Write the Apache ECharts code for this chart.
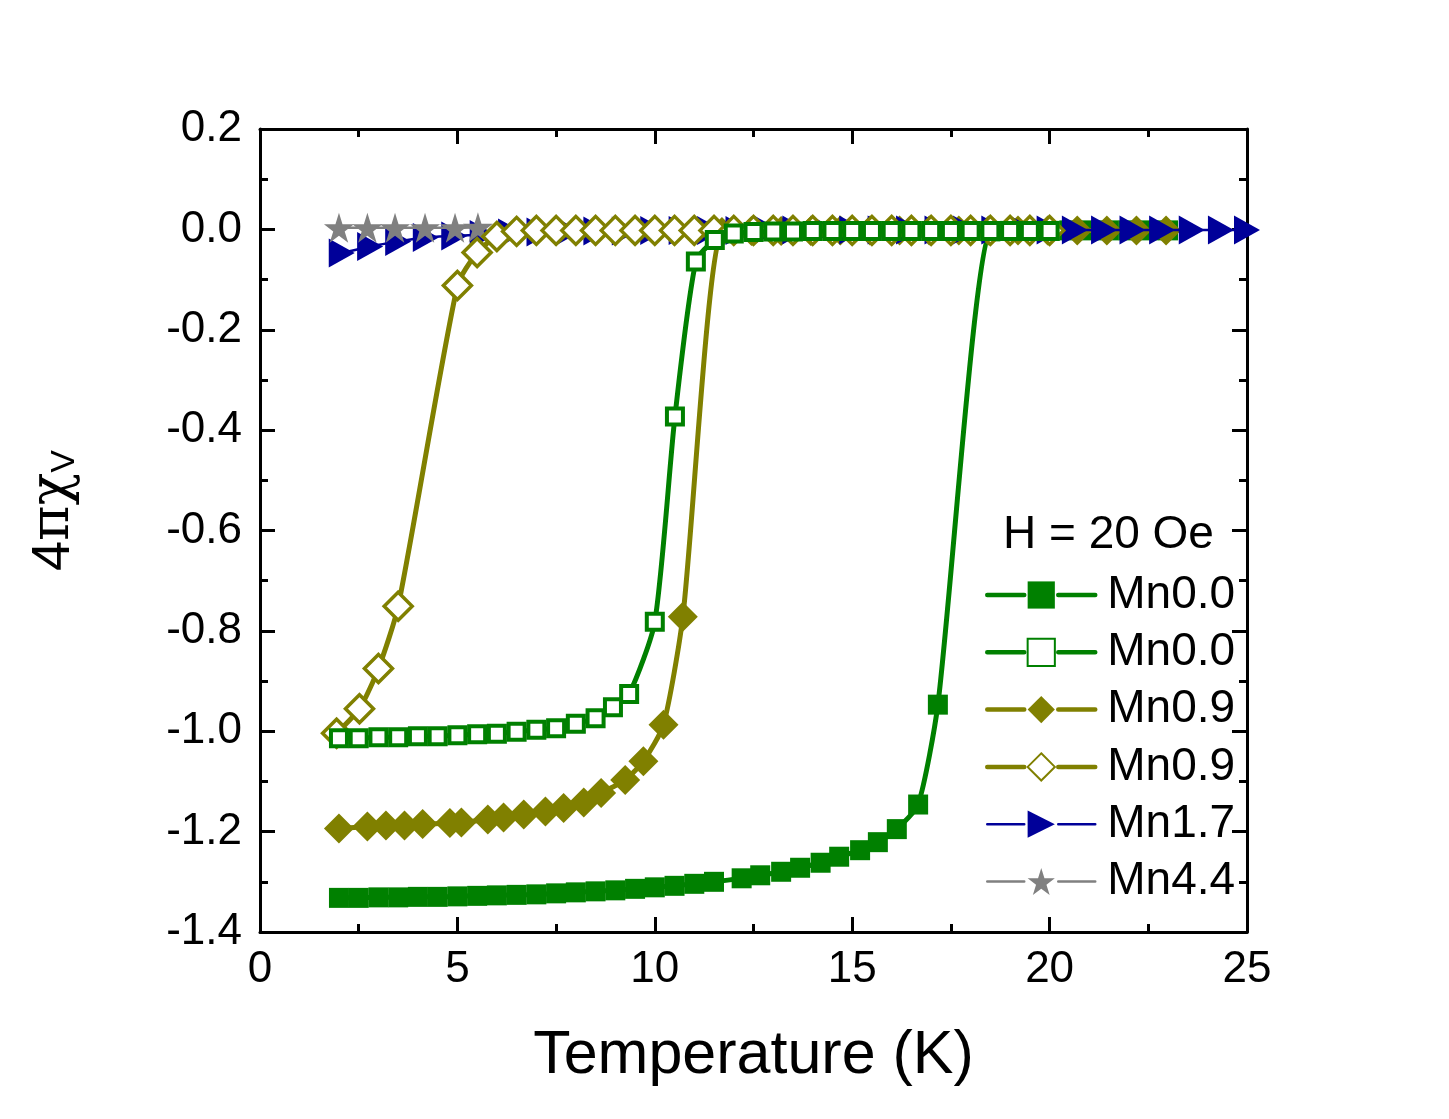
<!DOCTYPE html>
<html>
<head>
<meta charset="utf-8">
<script src="https://cdn.jsdelivr.net/npm/echarts@6/dist/echarts.min.js"></script>
<style>
html,body{margin:0;padding:0;background:#fff;}
#c{width:1449px;height:1119px;}
</style>
</head>
<body>
<div id="c"></div>
<script>
// ---- Data ----
const legendTitle = 'H = 20 Oe';
const xTitle = 'Temperature (K)';

// Mn0.0 filled squares
const sqT = [2.0, 2.5, 3.0, 3.5, 4.0, 4.5, 5.0, 5.5, 6.0, 6.5, 7.0, 7.5, 8.0, 8.5, 9.0, 9.5, 10.0, 10.5, 11.0, 11.5, 12.2, 12.67, 13.2, 13.68, 14.2, 14.67, 15.2, 15.65, 16.13, 16.67, 17.17, 18.5, 19.0, 19.5, 20.0, 20.5, 21.0, 21.5, 22.0, 22.5, 23.0];
const sqV = [-1.332, -1.332, -1.331, -1.331, -1.330, -1.330, -1.329, -1.328, -1.327, -1.326, -1.325, -1.323, -1.321, -1.319, -1.317, -1.314, -1.311, -1.308, -1.304, -1.300, -1.293, -1.287, -1.280, -1.272, -1.262, -1.250, -1.237, -1.221, -1.195, -1.146, -0.947, -0.004, -0.003, -0.003, -0.003, -0.002, -0.002, -0.002, -0.002, -0.002, -0.002];

// Mn0.0 open squares
const osqT = [2.0, 2.5, 3.0, 3.5, 4.0, 4.5, 5.0, 5.5, 6.0, 6.5, 7.0, 7.5, 8.0, 8.5, 8.94, 9.35, 10.0, 10.51, 11.04, 11.52, 12.0, 12.5, 13.0, 13.5, 14.0, 14.5, 15.0, 15.5, 16.0, 16.5, 17.0, 17.5, 18.0, 18.5, 19.0, 19.5, 20.0];
const osqV = [-1.014, -1.014, -1.012, -1.012, -1.010, -1.010, -1.008, -1.006, -1.005, -1.001, -0.997, -0.994, -0.985, -0.974, -0.952, -0.926, -0.782, -0.373, -0.064, -0.021, -0.008, -0.005, -0.004, -0.004, -0.003, -0.003, -0.003, -0.003, -0.003, -0.003, -0.003, -0.003, -0.003, -0.003, -0.003, -0.003, -0.003];

// Mn0.9 filled diamonds
const diaT = [2.0, 2.72, 3.19, 3.66, 4.12, 4.81, 5.10, 5.77, 6.17, 6.68, 7.23, 7.69, 8.20, 8.64, 9.25, 9.71, 10.22, 10.71, 11.7, 12.45, 13.2, 13.95, 14.7, 15.45, 16.2, 16.95, 17.7, 18.45, 19.2, 19.95, 20.7, 21.45, 22.2, 22.95];
const diaV = [-1.194, -1.190, -1.188, -1.188, -1.185, -1.183, -1.182, -1.176, -1.172, -1.166, -1.160, -1.153, -1.142, -1.123, -1.097, -1.060, -0.987, -0.772, -0.005, -0.003, -0.003, -0.003, -0.002, -0.002, -0.002, -0.002, -0.002, -0.002, -0.002, -0.002, -0.002, -0.002, -0.002, -0.002];

// Mn0.9 open diamonds
const odiaT = [1.94, 2.52, 3.0, 3.5, 5.0, 5.5, 6.0, 6.5, 7.0, 7.5, 8.0, 8.5, 9.0, 9.5, 10.0, 10.5, 11.0, 11.5, 12.0, 12.5, 13.0, 13.5, 14.0, 14.5, 15.0, 15.5, 16.0, 16.5, 17.0, 17.5, 18.0, 18.5, 19.0, 19.5, 20.0];
const odiaV = [-1.004, -0.955, -0.875, -0.751, -0.112, -0.046, -0.014, -0.004, -0.002, -0.002, -0.002, -0.002, -0.002, -0.002, -0.002, -0.002, -0.002, -0.002, -0.002, -0.002, -0.002, -0.002, -0.002, -0.002, -0.002, -0.002, -0.002, -0.002, -0.002, -0.002, -0.002, -0.002, -0.002, -0.002, -0.002];

// Mn1.7 triangles
const triT = [2.07, 2.79, 3.5, 4.2, 4.92, 5.64, 6.36, 7.08, 7.8, 8.52, 9.24, 9.96, 10.68, 11.4, 12.12, 12.84, 13.56, 14.28, 15.0, 15.72, 16.44, 17.16, 17.88, 18.6, 19.32, 20.0, 20.64, 21.38, 22.1, 22.85, 23.6, 24.34, 25.0];
const triV = [-0.047, -0.034, -0.024, -0.016, -0.013, -0.010, -0.007, -0.005, -0.004, -0.003, -0.003, -0.002, -0.002, -0.002, -0.002, -0.001, -0.001, -0.001, -0.001, -0.001, -0.001, -0.001, -0.001, -0.001, -0.001, -0.001, -0.001, -0.001, -0.001, -0.001, -0.001, -0.001, -0.001];

// Mn4.4 stars
const starT = [2.0, 2.72, 3.42, 4.18, 4.94, 5.52];
const starV = [0.003, 0.003, 0.003, 0.003, 0.003, 0.004];

// ---- Chart ----
const FONT = "'Liberation Sans', Arial, sans-serif";
const GREEN = '#008000', OLIVE = '#808000', BLUE = '#000099', GREY = '#808080';
const STAR = 'path://M50,0 L61.2,34.5 L97.6,34.5 L68.2,55.9 L79.4,90.5 L50,69.1 L20.6,90.5 L31.8,55.9 L2.4,34.5 L38.8,34.5 Z';
const pairs = (t, v) => t.map((x, i) => [x, v[i]]);

const chart = echarts.init(document.getElementById('c'));

const axisCommon = {
  axisLine: {onZero: false, lineStyle: {color: '#000', width: 3}},
  axisTick: {inside: true, length: 15, lineStyle: {color: '#000', width: 3}},
  minorTick: {show: true, splitNumber: 2, length: 8, lineStyle: {color: '#000', width: 3}},
  splitLine: {show: false},
  minorSplitLine: {show: false}
};

function lineSeries(name, t, v, color, symbol, size, width, extra) {
  const s = {
    name: name, type: 'line', data: pairs(t, v),
    smooth: 0.22,
    symbol: symbol, symbolSize: size,
    lineStyle: {width: width, color: color},
    itemStyle: {color: color}
  };
  return Object.assign(s, extra || {});
}

function legendItem(name, width) {
  return {name: name, lineStyle: {width: width, type: [37, 34, 37], cap: 'round'}};
}

const option = {
  animation: false,
  backgroundColor: '#fff',
  grid: {left: 260, right: 202, top: 129, bottom: 187, containLabel: false},
  xAxis: [
    Object.assign({
      type: 'value', min: 0, max: 25, interval: 5, position: 'bottom',
      axisLabel: {fontSize: 44, color: '#000', fontFamily: FONT, margin: 16},
      name: xTitle, nameLocation: 'middle', nameGap: 94,
      nameTextStyle: {fontSize: 61, color: '#000', fontFamily: FONT}
    }, axisCommon),
    Object.assign({
      type: 'value', min: 0, max: 25, interval: 5, position: 'top',
      axisLabel: {show: false}
    }, axisCommon)
  ],
  yAxis: [
    Object.assign({
      type: 'value', min: -1.4, max: 0.2, interval: 0.2, position: 'left',
      axisLabel: {fontSize: 44, color: '#000', fontFamily: FONT, margin: 18,
        formatter: v => Math.abs(v) < 1e-9 ? '0.0' : v.toFixed(1)},
      name: '{n|4}{g|πχ}{s|V}', nameLocation: 'middle', nameGap: 178,
      nameTextStyle: {color: '#000', padding: [0, 0, 0, 40], rich: {
        n: {fontSize: 54, fontFamily: FONT, color: '#000'},
        g: {fontSize: 54, fontFamily: "'DejaVu Serif', serif", color: '#000'},
        s: {fontSize: 34, fontFamily: FONT, color: '#000', padding: [22, 0, 0, 0]}
      }}
    }, axisCommon),
    Object.assign({
      type: 'value', min: -1.4, max: 0.2, interval: 0.2, position: 'right',
      axisLabel: {show: false}
    }, axisCommon)
  ],
  legend: {
    orient: 'vertical', left: 985, top: 572, padding: 0,
    itemWidth: 108, itemHeight: 34, itemGap: 11.3,
    formatter: name => name.split(' ')[0],
    textStyle: {fontSize: 46, lineHeight: 46, color: '#000', fontFamily: FONT, padding: [0, 0, 0, 7]},
    data: [
      legendItem('Mn0.0 filled', 4.5),
      legendItem('Mn0.0 open', 4.5),
      legendItem('Mn0.9 filled', 4.5),
      legendItem('Mn0.9 open', 4.5),
      legendItem('Mn1.7', 2.5),
      legendItem('Mn4.4', 2.5)
    ]
  },
  graphic: [{
    type: 'text', left: 1003, top: 512,
    style: {text: legendTitle, fontSize: 46, fontFamily: FONT, fill: '#000'}
  }],
  series: [
    lineSeries('Mn0.0 filled', sqT, sqV, GREEN, 'rect', 20, 5, {z: 2}),
    lineSeries('Mn0.0 open', osqT, osqV, GREEN, 'rect', 16, 5, {z: 7,
      itemStyle: {color: '#fff', borderColor: GREEN, borderWidth: 4}}),
    lineSeries('Mn0.9 filled', diaT, diaV, OLIVE, 'diamond', 30, 5, {z: 3}),
    lineSeries('Mn0.9 open', odiaT, odiaV, OLIVE, 'diamond', 28, 5, {z: 6,
      itemStyle: {color: '#fff', borderColor: OLIVE, borderWidth: 3.5}}),
    lineSeries('Mn1.7', triT, triV, BLUE, 'triangle', [29, 26], 2.5, {z: 4, symbolRotate: -90}),
    lineSeries('Mn4.4', starT, starV, GREY, STAR, 30, 2.5, {z: 5})
  ]
};
chart.setOption(option);
</script>
</body>
</html>
